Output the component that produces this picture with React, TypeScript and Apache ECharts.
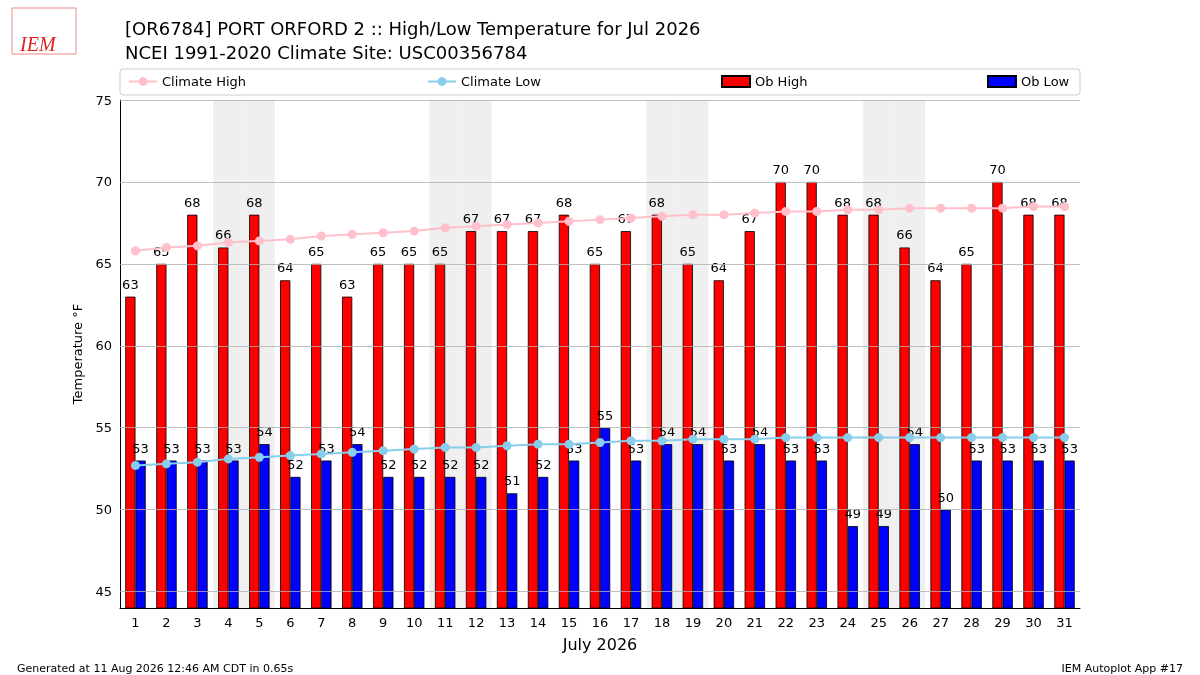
import React, { useEffect, useRef } from 'react';
import * as echarts from 'echarts';

const days = Array.from({ length: 31 }, (_, i) => String(i + 1));
const obHigh = [63, 65, 68, 66, 68, 64, 65, 63, 65, 65, 65, 67, 67, 67, 68, 65, 67, 68, 65, 64, 67, 70, 70, 68, 68, 66, 64, 65, 70, 68, 68];
const obLow = [53, 53, 53, 53, 54, 52, 53, 54, 52, 52, 52, 52, 51, 52, 53, 55, 53, 54, 54, 53, 54, 53, 53, 49, 49, 54, 50, 53, 53, 53, 53];
const climHigh = [65.8, 66.0, 66.1, 66.3, 66.4, 66.5, 66.7, 66.8, 66.9, 67.0, 67.2, 67.3, 67.4, 67.5, 67.6, 67.7, 67.8, 67.9, 68.0, 68.0, 68.1, 68.2, 68.2, 68.3, 68.3, 68.4, 68.4, 68.4, 68.4, 68.5, 68.5];
const climLow = [52.7, 52.8, 52.9, 53.1, 53.2, 53.3, 53.4, 53.5, 53.6, 53.7, 53.8, 53.8, 53.9, 54.0, 54.0, 54.1, 54.2, 54.2, 54.3, 54.3, 54.3, 54.4, 54.4, 54.4, 54.4, 54.4, 54.4, 54.4, 54.4, 54.4, 54.4];
const weekendDays = ['4', '5', '11', '12', '18', '19', '25', '26'];
const gridValues = [45, 50, 55, 60, 65, 70, 75];

const font = 'DejaVu Sans';

export default function App() {
  const ref = useRef<HTMLDivElement>(null);

  useEffect(() => {
    if (!ref.current) return;
    const chart = echarts.init(ref.current, null, { renderer: 'svg' });
    const legendBase = {
      top: 70,
      itemWidth: 28,
      itemHeight: 11,
      textStyle: { fontFamily: font, fontSize: 13, color: '#000' },
    };
    const shade = days.map((d) => (weekendDays.includes(d) ? 75 : null));
    chart.setOption({
      animation: false,
      textStyle: { fontFamily: font },
      title: [
        { text: '[OR6784] PORT ORFORD 2 :: High/Low Temperature for Jul 2026', left: 120, top: 14, textStyle: { fontFamily: font, fontSize: 18, fontWeight: 'normal', color: '#000' } },
        { text: 'NCEI 1991-2020 Climate Site: USC00356784', left: 120, top: 38, textStyle: { fontFamily: font, fontSize: 18, fontWeight: 'normal', color: '#000' } },
        { text: 'Generated at 11 Aug 2026 12:46 AM CDT in 0.65s', left: 12, top: 658, textStyle: { fontFamily: font, fontSize: 11, fontWeight: 'normal', color: '#000' } },
        { text: 'IEM Autoplot App #17', right: 12, top: 658, textStyle: { fontFamily: font, fontSize: 11, fontWeight: 'normal', color: '#000' } },
      ],
      graphic: [
        { type: 'rect', z: -10, shape: { x: 120, y: 69, width: 960, height: 26, r: 3 }, style: { fill: '#fff', stroke: '#ccc' } },
        { type: 'rect', shape: { x: 12, y: 8, width: 64, height: 46 }, style: { fill: '#fff', stroke: '#e88' } },
        { type: 'text', x: 20, y: 34, style: { text: 'IEM', fontFamily: 'Liberation Serif', fontStyle: 'italic', fontSize: 20, fill: '#d22' } },
      ],
      legend: [
        { ...legendBase, left: 123, data: ['Climate High'] },
        { ...legendBase, left: 422, data: ['Climate Low'] },
        { ...legendBase, left: 716, data: [{ name: 'Ob High', icon: 'rect' }] },
        { ...legendBase, left: 982, data: [{ name: 'Ob Low', icon: 'rect' }] },
      ],
      grid: { left: 120, right: 120, top: 100, bottom: 67 },
      xAxis: [
        {
          type: 'category',
          data: days,
          name: 'July 2026',
          nameLocation: 'middle',
          nameGap: 28,
          nameTextStyle: { fontSize: 16, color: '#000' },
          axisLine: { onZero: false, lineStyle: { color: '#000' } },
          axisTick: { alignWithLabel: true, lineStyle: { color: '#000' } },
          axisLabel: { fontSize: 13, color: '#000' },
        },
        { type: 'category', data: days, show: false },
      ],
      yAxis: {
        type: 'value',
        min: 44,
        max: 75,
        interval: 1,
        name: 'Temperature °F',
        nameLocation: 'middle',
        nameGap: 36,
        nameTextStyle: { fontSize: 13, color: '#000' },
        axisLine: { show: true, lineStyle: { color: '#000' } },
        axisTick: { show: false },
        splitLine: { show: false },
        axisLabel: { fontSize: 13, color: '#000', formatter: (v: number) => (v % 5 === 0 ? String(v) : '') },
      },
      series: [
        {
          type: 'bar',
          xAxisIndex: 1,
          data: shade,
          barWidth: '100%',
          silent: true,
          itemStyle: { color: '#efefef' },
          z: 0,
        },
        {
          name: 'Ob High',
          type: 'bar',
          data: obHigh,
          barGap: '0%',
          barCategoryGap: '34%',
          itemStyle: { color: '#ff0000', borderColor: '#000', borderWidth: 0.8 },
          label: { show: true, position: 'top', distance: 6, fontSize: 13, color: '#000' },
          markLine: {
            silent: true,
            symbol: 'none',
            label: { show: false },
            lineStyle: { color: '#b0b0b0', type: 'solid', width: 0.8 },
            data: gridValues.map((v) => ({ yAxis: v })),
          },
          z: 2,
        },
        {
          name: 'Ob Low',
          type: 'bar',
          data: obLow,
          itemStyle: { color: '#0000ff', borderColor: '#000', borderWidth: 0.8 },
          label: { show: true, position: 'top', distance: 6, fontSize: 13, color: '#000' },
          z: 2,
        },
        {
          name: 'Climate High',
          type: 'line',
          data: climHigh,
          symbol: 'circle',
          symbolSize: 9,
          itemStyle: { color: '#ffc0cb' },
          lineStyle: { color: '#ffc0cb', width: 2 },
          z: 3,
        },
        {
          name: 'Climate Low',
          type: 'line',
          data: climLow,
          symbol: 'circle',
          symbolSize: 9,
          itemStyle: { color: '#87ceeb' },
          lineStyle: { color: '#87ceeb', width: 2 },
          z: 3,
        },
      ],
    });
    return () => chart.dispose();
  }, []);

  return <div ref={ref} style={{ position: 'fixed', left: 0, top: 0, width: 1200, height: 675 }} />;
}
